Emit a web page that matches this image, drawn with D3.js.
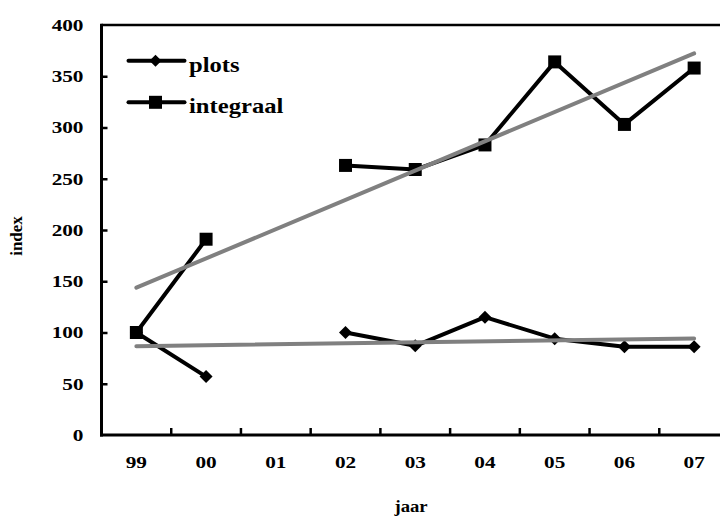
<!DOCTYPE html>
<html><head><meta charset="utf-8">
<script src="https://cdn.jsdelivr.net/npm/d3@7"></script>
<style>body{margin:0;background:#fff}svg{display:block}text{font-family:"Liberation Serif","Times New Roman",serif;font-weight:bold;fill:#000}</style>
</head><body>
<svg id="c" width="720" height="517"></svg>
<script>
const years = ["99","00","01","02","03","04","05","06","07"];
const plots = [100, 57, null, 100, 87, 115, 94, 86, 86];
const integraal = [100, 191, null, 263, 259, 283, 364, 303, 358];
const yTicks = [0, 50, 100, 150, 200, 250, 300, 350, 400];
const seriesNames = ["plots", "integraal"];
const axisTitles = {x: "jaar", y: "index"};

const svg = d3.select("#c");
svg.append("rect").attr("width",720).attr("height",517).attr("fill","#fff");

const x = d3.scaleBand().domain(years).range([101.5, 729]).padding(0);
const y = d3.scaleLinear().domain([0, 400]).range([435, 25]);
const cx = d => x(d) + x.bandwidth()/2;

// regression trend
function trend(vals){
  const pts = vals.map((v,i)=>[i+1,v]).filter(p=>p[1]!=null);
  const mx = d3.mean(pts,p=>p[0]), my = d3.mean(pts,p=>p[1]);
  const sxy = d3.sum(pts,p=>(p[0]-mx)*(p[1]-my));
  const sxx = d3.sum(pts,p=>(p[0]-mx)*(p[0]-mx));
  const b = sxy/sxx, a = my - b*mx;
  return [[years[0], a + b*1],[years[years.length-1], a + b*years.length]];
}

// top frame line
svg.append("line").attr("x1",x.range()[0]).attr("x2",720).attr("y1",y(400)).attr("y2",y(400))
  .attr("stroke","#000").attr("stroke-width",2.5);

// y axis
const yAxis = svg.append("g").attr("transform",`translate(${x.range()[0]},0)`)
  .call(d3.axisRight(y).tickValues(yTicks.filter(t=>t>0 && t<400)).tickSize(6).tickFormat(""));
yAxis.select(".domain").remove();
yAxis.selectAll(".tick line").attr("stroke","#000").attr("stroke-width",2.5);
svg.append("line").attr("x1",x.range()[0]).attr("x2",x.range()[0]).attr("y1",y(400)-1.2).attr("y2",y(0)+1.5)
  .attr("stroke","#000").attr("stroke-width",3);
// y labels
svg.append("g").selectAll("text").data(yTicks).join("text")
  .attr("transform",d=>`translate(83.5,${y(d)+5.8}) scale(1.25,1)`)
  .attr("text-anchor","end").attr("font-size",17).text(d=>d);

// x axis
const boundaries = years.slice(1).map(d=>x(d));
svg.append("g").selectAll("line").data(boundaries).join("line")
  .attr("x1",d=>d).attr("x2",d=>d).attr("y1",y(0)).attr("y2",y(0)-7)
  .attr("stroke","#000").attr("stroke-width",2.5);
svg.append("line").attr("x1",x.range()[0]-1.5).attr("x2",720).attr("y1",y(0)).attr("y2",y(0))
  .attr("stroke","#000").attr("stroke-width",3);
svg.append("g").selectAll("text").data(years).join("text")
  .attr("transform",d=>`translate(${cx(d)},467.5) scale(1.25,1)`)
  .attr("text-anchor","middle").attr("font-size",17).text(d=>d);

// axis titles
svg.append("text").attr("transform","translate(411,512) scale(1.1,1)").attr("text-anchor","middle")
  .attr("font-size",17).text(axisTitles.x);
svg.append("text").attr("transform","translate(22,236) rotate(-90)").attr("text-anchor","middle")
  .attr("font-size",17).text(axisTitles.y);

// series
const line = d3.line().defined(d=>d[1]!=null).x(d=>cx(d[0])).y(d=>y(d[1]));
const diamond = (s)=>`M0,${-s}L${s},0L0,${s}L${-s},0Z`;
const square = (s)=>`M${-s},${-s}H${s}V${s}H${-s}Z`;
const data = [plots, integraal];
const shapes = [diamond(6.5), square(6.5)];

data.forEach((vals,i)=>{
  svg.append("path").datum(years.map((yr,j)=>[yr,vals[j]])).attr("d",line)
    .attr("fill","none").attr("stroke","#000").attr("stroke-width",4).attr("stroke-linejoin","round");
});
data.forEach((vals,i)=>{
  svg.append("g").selectAll("path").data(years.map((yr,j)=>[yr,vals[j]]).filter(d=>d[1]!=null)).join("path")
    .attr("transform",d=>`translate(${cx(d[0])},${y(d[1])})`).attr("d",shapes[i]).attr("fill","#000");
});
// trend lines
data.forEach(vals=>{
  const t = trend(vals);
  svg.append("line").attr("x1",cx(t[0][0])).attr("y1",y(t[0][1])).attr("x2",cx(t[1][0])).attr("y2",y(t[1][1]))
    .attr("stroke","#808080").attr("stroke-width",4).attr("stroke-linecap","round");
});

// legend
const legY = [60.7, 102.3];
const leg = svg.append("g");
seriesNames.forEach((n,i)=>{
  leg.append("line").attr("x1",128.5).attr("x2",184.5).attr("y1",legY[i]).attr("y2",legY[i])
    .attr("stroke","#000").attr("stroke-width",4).attr("stroke-linecap","round");
  leg.append("path").attr("transform",`translate(155.5,${legY[i]})`).attr("d",i===0?diamond(6):square(6.5)).attr("fill","#000");
  leg.append("text").attr("transform",`translate(189,${legY[i]+11}) scale(1.12,1)`).attr("font-size",22).text(n);
});
</script>
</body></html>
